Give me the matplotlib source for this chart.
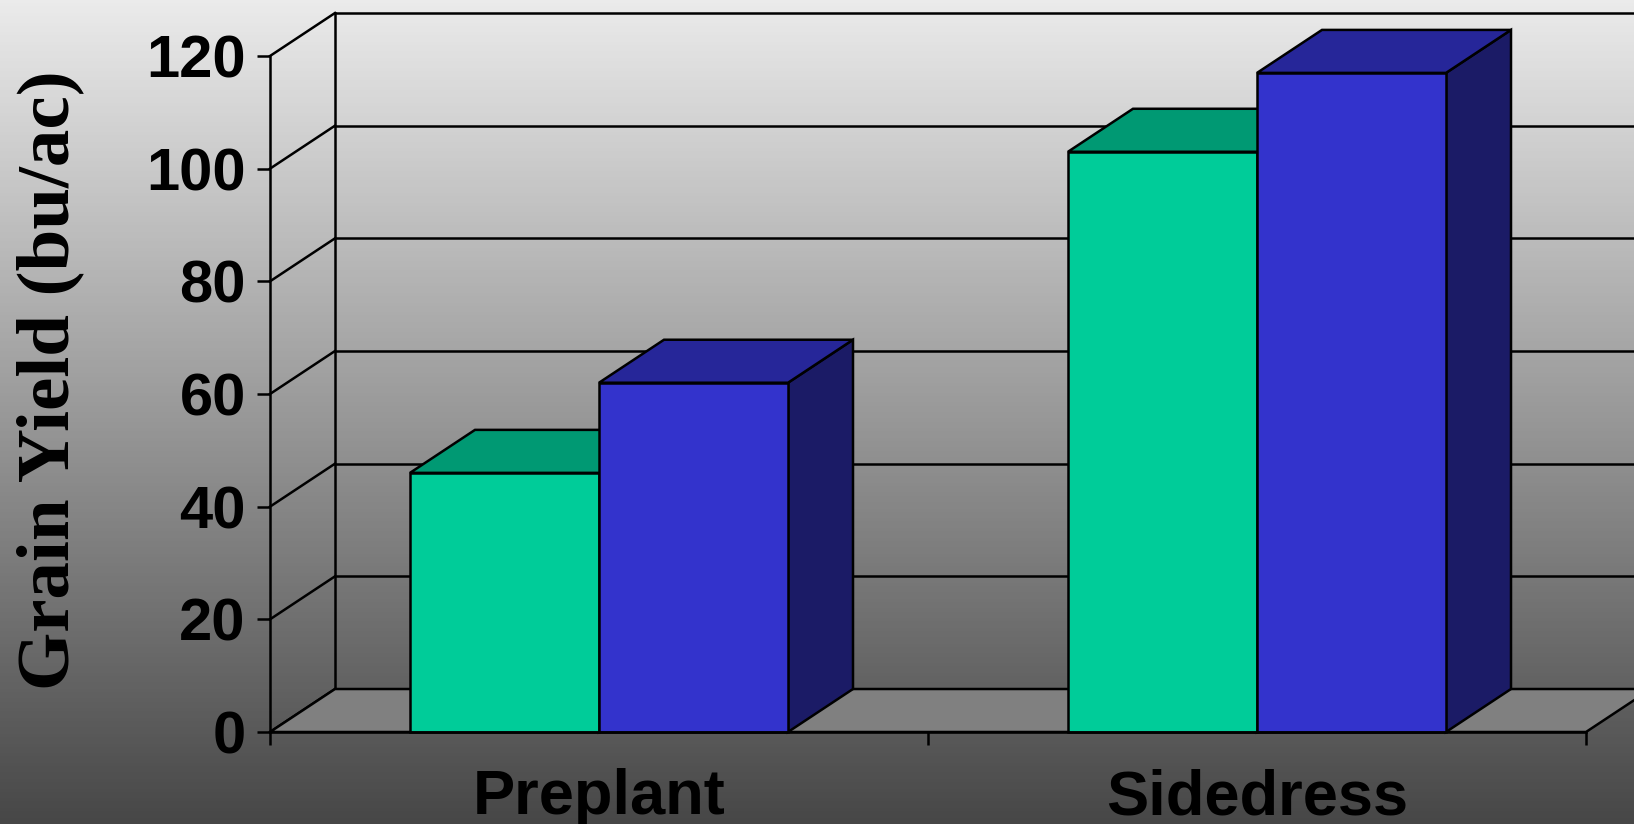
import matplotlib.pyplot as plt
import numpy as np
from matplotlib.patches import Polygon

# Data
categories = ['Preplant', 'Sidedress']
series_names = ['Series A', 'Series B']
values_a = [46, 103]    # green bars
values_b = [62, 117]    # blue bars
y_ticks = [0, 20, 40, 60, 80, 100, 120]

# Colours (front, top, side)
green = ('#00CC99', '#009973', '#006B50')
blue = ('#3333CC', '#262699', '#1B1B66')

W, H = 1634, 824
fig = plt.figure(figsize=(W / 100, H / 100), dpi=100)

# Gradient background
bg = fig.add_axes([0, 0, 1, 1], zorder=-10)
grad = np.linspace(0, 1, 256).reshape(-1, 1)
bg.imshow(grad, aspect='auto', cmap=plt.matplotlib.colors.LinearSegmentedColormap.from_list(
    'g', ['#ebebeb', '#474747']), extent=[0, 1, 0, 1], origin='upper')
bg.axis('off')

# Main axes: front plane of the 3D box
left_px, right_px = 270, 1586
bottom_px, top_px = 732, 56
ax = fig.add_axes([left_px / W, 1 - bottom_px / H,
                   (right_px - left_px) / W, (bottom_px - top_px) / H])
ax.set_xlim(0, 2)
ax.set_ylim(0, 120)
ax.patch.set_alpha(0)

# depth offsets in data units
dx = 65 / ((right_px - left_px) / 2)
dy = 43 / ((bottom_px - top_px) / 120)
lw = 1.8

# back wall gridlines and left side wall lines
for v in y_ticks:
    ax.plot([dx, 2 + dx], [v + dy, v + dy], color='black', lw=lw, clip_on=False, zorder=1)
    ax.plot([0, dx], [v, v + dy], color='black', lw=lw, clip_on=False, zorder=1)
ax.plot([dx, dx], [dy, 120 + dy], color='black', lw=lw, clip_on=False, zorder=1)

# floor
floor = Polygon([(0, 0), (2, 0), (2 + dx, dy), (dx, dy)], closed=True,
                facecolor='#808080', edgecolor='black', lw=lw, clip_on=False, zorder=2)
ax.add_patch(floor)


def bar3d(x0, w, h, cols):
    front = Polygon([(x0, 0), (x0 + w, 0), (x0 + w, h), (x0, h)],
                    facecolor=cols[0], edgecolor='black', lw=lw, clip_on=False, zorder=3)
    top = Polygon([(x0, h), (x0 + w, h), (x0 + w + dx, h + dy), (x0 + dx, h + dy)],
                  facecolor=cols[1], edgecolor='black', lw=lw, clip_on=False, zorder=3)
    side = Polygon([(x0 + w, 0), (x0 + w + dx, dy), (x0 + w + dx, h + dy), (x0 + w, h)],
                   facecolor=cols[2], edgecolor='black', lw=lw, clip_on=False, zorder=3)
    for p in (side, top, front):
        ax.add_patch(p)


bw = 189 / ((right_px - left_px) / 2)
for i, cat in enumerate(categories):
    c = i + 0.5
    bar3d(c - bw, bw, values_a[i], green)
    bar3d(c, bw, values_b[i], blue)

# axes, ticks and labels
for s in ['top', 'right']:
    ax.spines[s].set_visible(False)
for s in ['left', 'bottom']:
    ax.spines[s].set_linewidth(lw)
    ax.spines[s].set_zorder(4)

ax.set_yticks(y_ticks)
ax.set_yticklabels([str(v) for v in y_ticks], fontsize=43, fontweight='bold',
                   family='Liberation Sans')
ax.tick_params(axis='y', direction='out', length=9.4, width=lw, pad=8)
ax.set_xticks([0, 1, 2])
ax.set_xticklabels([])
ax.tick_params(axis='x', which='major', direction='out', length=9.4, width=lw)
ax.set_xticks([0.5, 1.5], minor=True)
ax.set_xticklabels(categories, minor=True, fontsize=45.5, fontweight='bold',
                   family='Liberation Sans')
ax.tick_params(axis='x', which='minor', length=0, pad=26)

fig.text(50 / W, 1 - 380 / H, 'Grain Yield (bu/ac)', rotation=90, ha='center', va='center',
         fontsize=54, fontweight='bold', family='Liberation Serif')

fig.savefig('out.png', dpi=100)
